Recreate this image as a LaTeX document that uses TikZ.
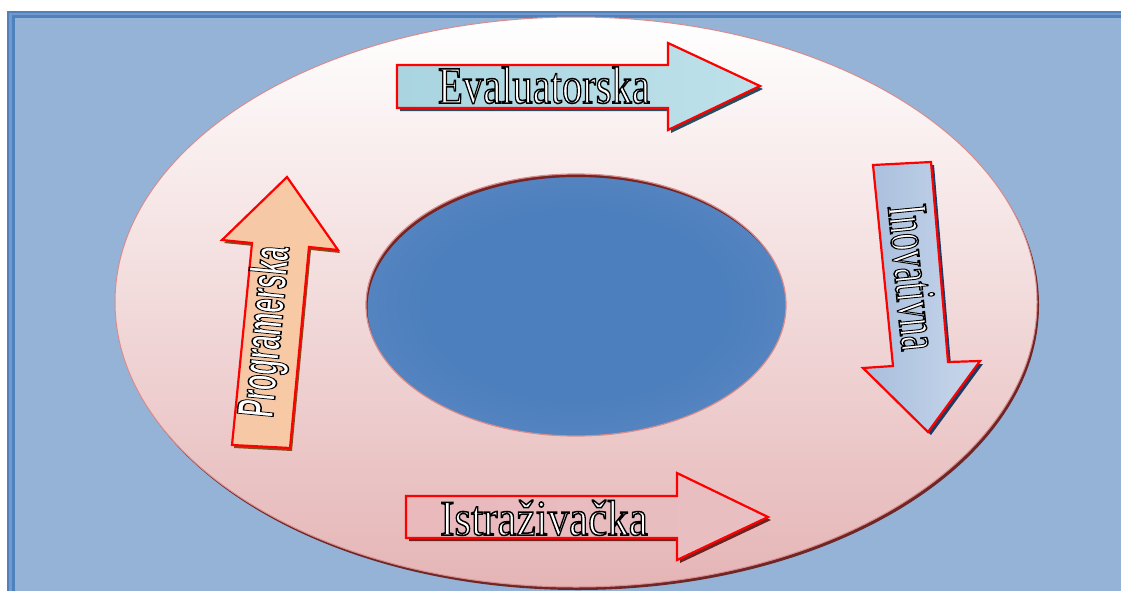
\documentclass[tikz,border=0pt]{standalone}
\usepackage{fontspec}
\usepackage{graphicx}
\newfontfamily\serifcondfont{Liberation Serif}
\newfontfamily\sanscondfont{Liberation Sans}
\newcommand{\hollow}[1]{\special{pdf:literal direct 0 G 1.5 w 2 Tr}#1\special{pdf:literal direct 0 Tr}}
\definecolor{bgfill}{RGB}{149,179,215}
\definecolor{bgdark}{RGB}{79,129,189}
\definecolor{bglight}{RGB}{115,152,205}
\definecolor{ringbottom}{RGB}{229,181,182}
\definecolor{ringline}{RGB}{217,140,140}
\definecolor{ringshadow}{RGB}{110,38,38}
\definecolor{holeedge}{RGB}{112,151,204}
\definecolor{holemid}{RGB}{76,127,189}
\definecolor{holeshadow}{RGB}{118,36,36}
\definecolor{evA}{RGB}{169,213,224}
\definecolor{evB}{RGB}{232,244,247}
\definecolor{evC}{RGB}{190,225,234}
\definecolor{evS}{RGB}{40,78,96}
\definecolor{isA}{RGB}{233,185,188}
\definecolor{isB}{RGB}{246,222,225}
\definecolor{isC}{RGB}{232,191,194}
\definecolor{isS}{RGB}{110,34,34}
\definecolor{inA}{RGB}{168,190,220}
\definecolor{inB}{RGB}{224,233,244}
\definecolor{inC}{RGB}{200,215,236}
\definecolor{inS}{RGB}{31,59,99}
\definecolor{prA}{RGB}{246,200,166}
\definecolor{prB}{RGB}{254,233,218}
\definecolor{prC}{RGB}{249,201,164}
\definecolor{prS}{RGB}{138,74,26}
\pgfdeclareradialshading{holeshade}{\pgfpoint{0bp}{0bp}}{color(0bp)=(holemid); color(18bp)=(holemid); color(50bp)=(holeedge)}
\tikzset{
  arrowbox/.style={draw=red, line width=2.2pt, line join=miter},
  hollowtext/.style={text=white, inner sep=0pt},
}
\begin{document}
\begin{tikzpicture}[x=1pt,y=-1pt]
\useasboundingbox (0,0) rectangle (1121,590);
% background panel with double border
\fill[bgdark] (7,11) rectangle (1200,700);
\fill[bglight] (9,13) rectangle (1200,700);
\fill[bgdark] (11.5,15) rectangle (1200,700);
\fill[bgfill] (14.5,17.5) rectangle (1200,700);
% ring
\fill[ringshadow] (578,305) ellipse (461 and 285);
\shade[top color=white, bottom color=ringbottom] (576,302) ellipse (461 and 285);
\draw[ringline, line width=1pt] (576,302) ellipse (461 and 285);
% hole
\shade[shading=holeshade] (576,305) ellipse (210 and 131);
\begin{scope}
\clip (576,305) ellipse (210 and 131);
\fill[holeshadow, even odd rule] (576,305) ellipse (240 and 160) (577.5,308) ellipse (210 and 131);
\end{scope}
\draw[ringline, line width=1.2pt] (576,305) ellipse (210 and 131);
% Evaluatorska arrow
\fill[evS, shift={(3,3)}] (397,65) -- (668,65) -- (668,43) -- (760,86) -- (668,130) -- (668,108) -- (397,108) -- cycle;
\shade[left color=evA, middle color=evB, right color=evC] (397,65) -- (668,65) -- (668,43) -- (760,86) -- (668,130) -- (668,108) -- (397,108) -- cycle;
\draw[arrowbox] (397,65) -- (668,65) -- (668,43) -- (760,86) -- (668,130) -- (668,108) -- (397,108) -- cycle;
\node[hollowtext, anchor=base] (eval) at (544,103) {\fontsize{52}{60}\serifcondfont\scalebox{0.78}[1]{\hollow{Evaluatorska}}};
% Istrazivacka arrow
\fill[isS, shift={(3,3)}] (406,496) -- (677,496) -- (677,473) -- (768,517) -- (677,560) -- (677,538) -- (406,538) -- cycle;
\shade[left color=isA, middle color=isB, right color=isC] (406,496) -- (677,496) -- (677,473) -- (768,517) -- (677,560) -- (677,538) -- (406,538) -- cycle;
\draw[arrowbox] (406,496) -- (677,496) -- (677,473) -- (768,517) -- (677,560) -- (677,538) -- (406,538) -- cycle;
\node[hollowtext, anchor=base] (istr) at (544,535) {\fontsize{50}{60}\serifcondfont\scalebox{0.86}[1]{\hollow{Istraživačka}}};
% Inovativna arrow
\fill[inS, shift={(3,3)}] (873,165) -- (931,162) -- (948,362) -- (980,361) -- (928,432) -- (863,368) -- (893,366) -- cycle;
\shade[left color=inA, middle color=inB, right color=inC] (873,165) -- (931,162) -- (948,362) -- (980,361) -- (928,432) -- (863,368) -- (893,366) -- cycle;
\draw[arrowbox] (873,165) -- (931,162) -- (948,362) -- (980,361) -- (928,432) -- (863,368) -- (893,366) -- cycle;
\node[hollowtext, anchor=base, rotate=-84.5] (inov) at (895,279) {\fontsize{57}{60}\serifcondfont\scalebox{0.6}[1]{\hollow{Inovativna}}};
% Programerska arrow
\fill[prS, shift={(2,3)}] (287,177) -- (338,250) -- (309,247) -- (290,448) -- (232,445) -- (252,243) -- (222,240) -- cycle;
\shade[left color=prA, middle color=prB, right color=prC] (287,177) -- (338,250) -- (309,247) -- (290,448) -- (232,445) -- (252,243) -- (222,240) -- cycle;
\draw[arrowbox] (287,177) -- (338,250) -- (309,247) -- (290,448) -- (232,445) -- (252,243) -- (222,240) -- cycle;
\node[hollowtext, anchor=base, rotate=84.5] (prog) at (281,333) {\fontsize{52}{60}\sanscondfont\bfseries\scalebox{0.49}[1]{\hollow{Programerska}}};
\end{tikzpicture}
\end{document}
